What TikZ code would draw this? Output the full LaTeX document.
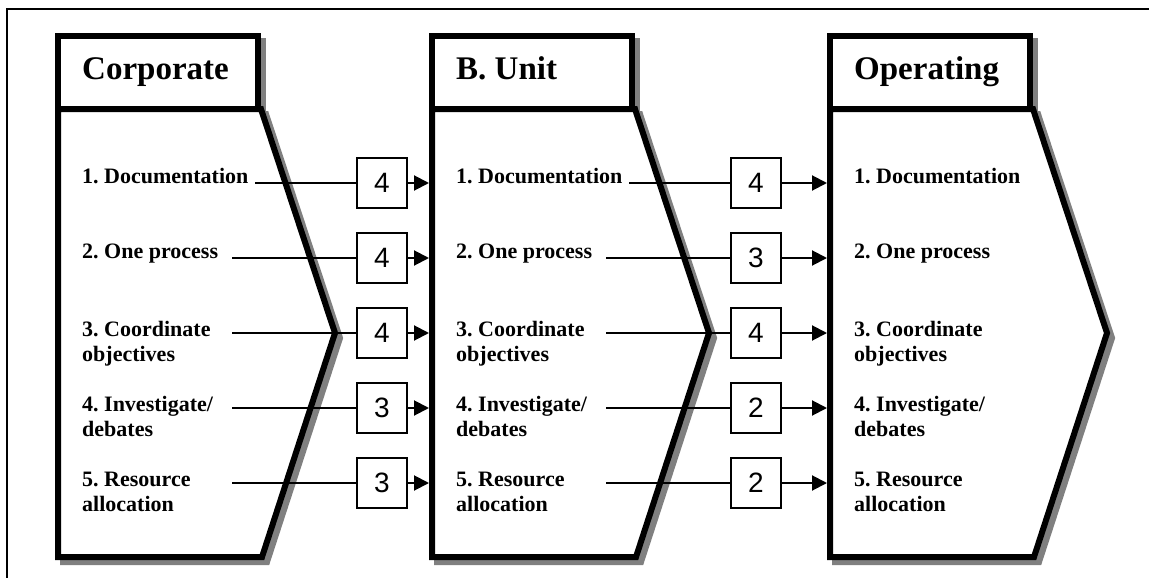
\documentclass[tikz,border=0pt]{standalone}
\usepackage{fontspec}
\setmainfont{Liberation Serif}
\newfontfamily\numfont{Liberation Sans}
\usetikzlibrary{arrows.meta}
\definecolor{shadowgray}{RGB}{128,128,128}
\frenchspacing

% Chevron panel: header box on top of an arrow-shaped body, with a drop shadow.
% #1 = left edge, #2 = title, #3 = name prefix
\newcommand{\drawpanel}[3]{%
  \filldraw[shadowshape, shift={(5,5)}] (#1,109) -- ({#1+203},109) -- ({#1+277},333)
      -- ({#1+204},557) -- (#1,557) -- cycle;
  \filldraw[shadowshape, shift={(5,5)}] (#1,36) rectangle ({#1+200},109);
  \filldraw[panelshape] (#1,109) -- ({#1+203},109) -- ({#1+277},333)
      -- ({#1+204},557) -- (#1,557) -- cycle;
  \filldraw[panelshape] (#1,36) rectangle ({#1+200},109);
  \node[titletext] (#3-title) at ({#1+24},80) {#2};
  \node[itemtext] (#3-i1) at ({#1+24},183) {1. Documentation};
  \node[itemtext] (#3-i2) at ({#1+24},258) {2. One process};
  \node[itemtext] (#3-i3) at ({#1+24},336)
      {\begin{tabular}[t]{@{}l@{}}3. Coordinate\\objectives\end{tabular}};
  \node[itemtext] (#3-i4) at ({#1+24},411)
      {\begin{tabular}[t]{@{}l@{}}4. Investigate/\\debates\end{tabular}};
  \node[itemtext] (#3-i5) at ({#1+24},486)
      {\begin{tabular}[t]{@{}l@{}}5. Resource\\allocation\end{tabular}};
}

% Scored links from one panel to the next.
% #1 = source left edge, #2 = target left edge, #3 = prefix, #4-#8 = scores
\newcommand{\panellinks}[8]{%
  \foreach \r/\y/\sx/\sc in {1/183/197/#4, 2/258/174/#5, 3/333/174/#6,
                             4/408/174/#7, 5/483/174/#8} {
    \coordinate (#3-s\r) at ({#1+\sx},\y);
    \coordinate (#3-e\r) at ({#2-3},\y);
    \node[scorebox] (#3-b\r) at ({#1+324},\y) {\sc};
    \draw[feed] (#3-s\r) -- (#3-b\r);
    \draw[feedarrow] (#3-b\r) -- (#3-e\r);
  }
}

\begin{document}
\begin{tikzpicture}[x=1pt,y=-1pt,
  framerule/.style={line width=2pt},
  shadowshape/.style={draw=shadowgray, fill=shadowgray, line width=6pt, miter limit=1.5},
  panelshape/.style={draw=black, fill=white, line width=6pt, miter limit=1.5},
  titletext/.style={anchor=base west, inner sep=0pt, font=\bfseries\fontsize{33}{33}\selectfont},
  itemtext/.style={anchor=base west, inner sep=0pt, font=\bfseries\fontsize{22}{25}\selectfont},
  scorebox/.style={draw, fill=white, line width=1.5pt, minimum width=50pt,
                   minimum height=50pt, inner sep=0pt, font=\numfont\fontsize{28}{28}\selectfont},
  feed/.style={line width=2pt},
  feedarrow/.style={line width=2pt, -{Triangle[length=15pt,width=15pt]}},
]
\useasboundingbox (0,0) rectangle (1149,578);
\fill[white] (0,0) rectangle (1149,578);

% page frame (top and left rules only)
\draw[framerule] (6.5,578) -- (6.5,9) -- (1149,9);

\drawpanel{58}{Corporate}{corp}
\drawpanel{432}{B. Unit}{unit}
\drawpanel{830}{Operating}{oper}

\panellinks{58}{432}{cu}{4}{4}{4}{3}{3}
\panellinks{432}{830}{uo}{4}{3}{4}{2}{2}
\end{tikzpicture}
\end{document}
